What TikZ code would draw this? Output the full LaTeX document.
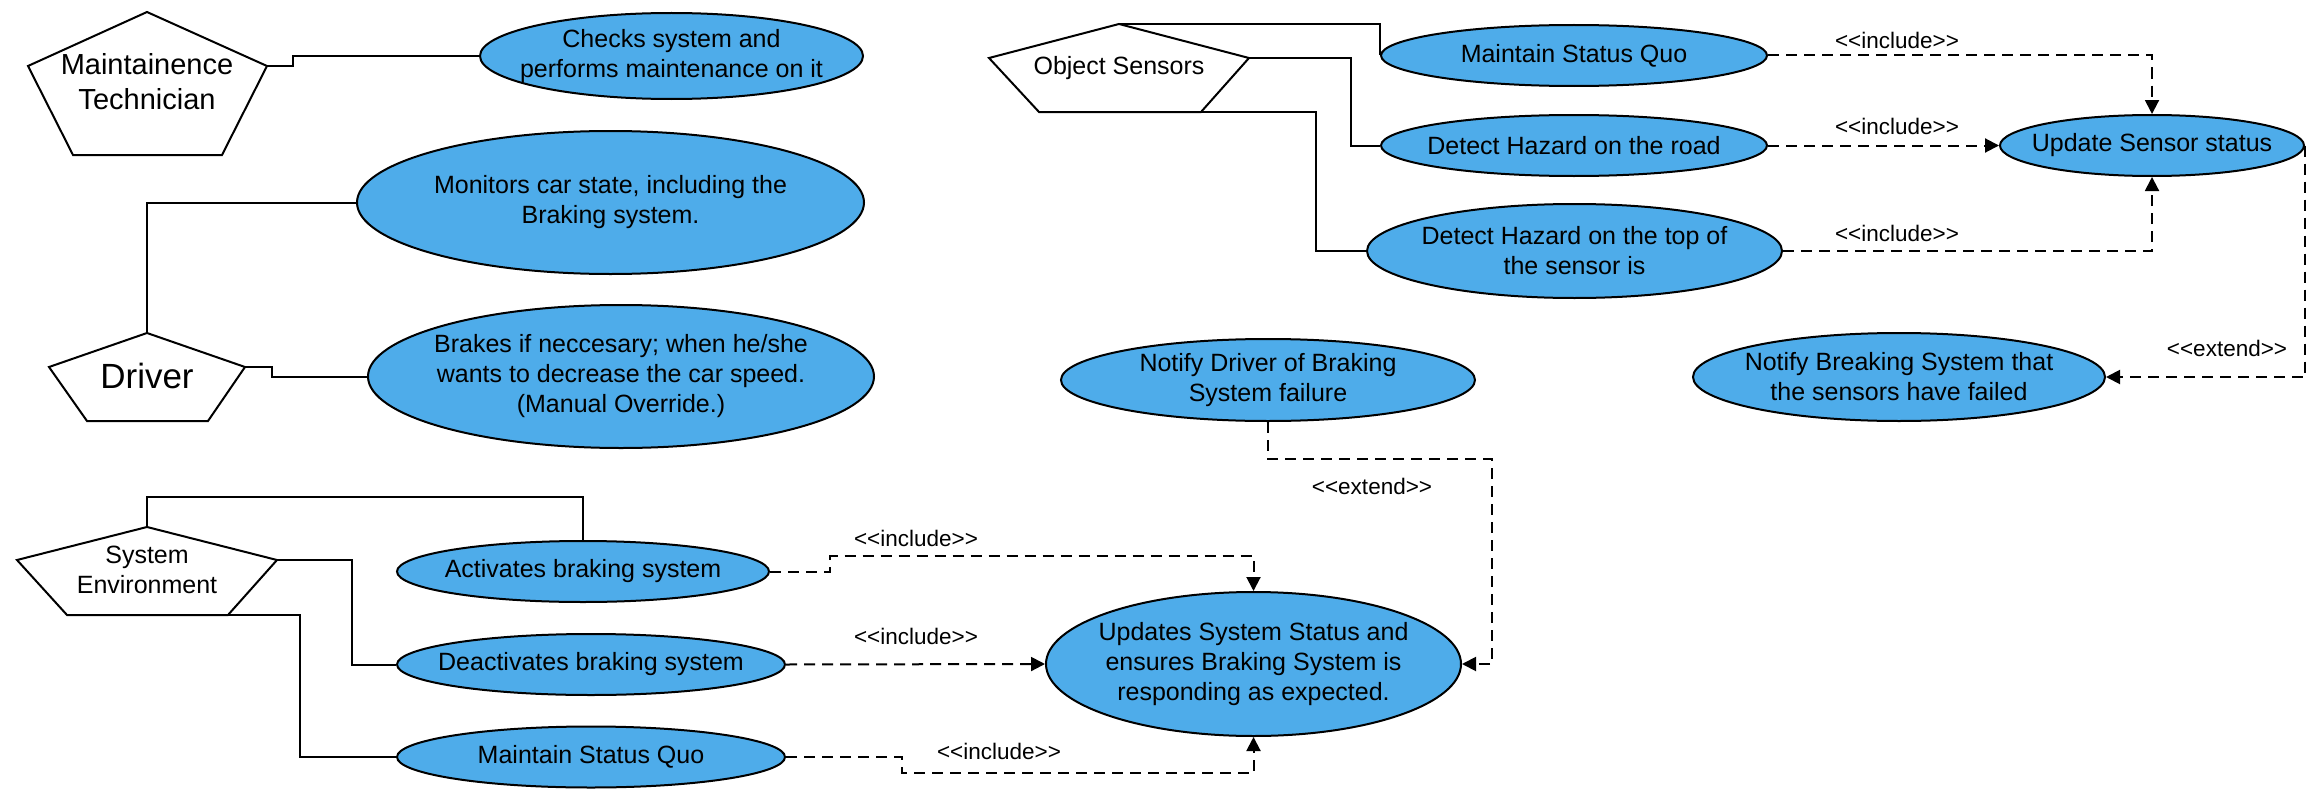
\documentclass[tikz,border=0pt]{standalone}
\usepackage{fontspec}
\setmainfont{Liberation Sans}
\usetikzlibrary{shapes.geometric,arrows.meta}
\definecolor{ucblue}{RGB}{78,172,234}
\begin{document}
\begin{tikzpicture}[x=1pt,y=-1pt,
  uc/.style={ellipse, draw=black, line width=2pt, fill=ucblue, inner sep=0pt},
  uctext/.style={align=center, inner sep=0pt, font=\fontsize{25}{30}\selectfont},
  actor/.style={draw=black, line width=2pt, fill=white, line join=miter},
  assoc/.style={draw=black, line width=2pt},
  dep/.style={draw=black, line width=2pt, dash pattern=on 11pt off 7pt, -{Triangle[length=14pt,width=14pt]}},
  deplabel/.style={inner sep=0pt, font=\fontsize{22.5}{27}\selectfont}
]
\useasboundingbox (0,0) rectangle (2324,800);

% ---------- actors ----------
\coordinate (mt-t) at (147,12);
\coordinate (mt-l) at (28,66);
\coordinate (mt-r) at (267,66);
\coordinate (mt-bl) at (73,155);
\coordinate (mt-br) at (222,155);
\draw[actor] (mt-t) -- (mt-r) -- (mt-br) -- (mt-bl) -- (mt-l) -- cycle;
\node[align=center, inner sep=0pt, font=\fontsize{29}{35}\selectfont] (mt) at (147,82) {Maintainence\\Technician};

\coordinate (dr-t) at (147,333);
\coordinate (dr-l) at (49,367);
\coordinate (dr-r) at (245,367);
\coordinate (dr-bl) at (87,421);
\coordinate (dr-br) at (208,421);
\draw[actor] (dr-t) -- (dr-r) -- (dr-br) -- (dr-bl) -- (dr-l) -- cycle;
\node[inner sep=0pt, font=\fontsize{35}{42}\selectfont] (dr) at (147,376) {Driver};

\coordinate (os-t) at (1119,24);
\coordinate (os-l) at (989,58);
\coordinate (os-r) at (1249,58);
\coordinate (os-bl) at (1039,112);
\coordinate (os-br) at (1201,112);
\draw[actor] (os-t) -- (os-r) -- (os-br) -- (os-bl) -- (os-l) -- cycle;
\node[uctext] (os) at (1119,68) {Object Sensors};

\coordinate (se-t) at (147,527);
\coordinate (se-l) at (17,560);
\coordinate (se-r) at (277,560);
\coordinate (se-bl) at (67,615);
\coordinate (se-br) at (228,615);
\draw[actor] (se-t) -- (se-r) -- (se-br) -- (se-bl) -- (se-l) -- cycle;
\node[uctext] (se) at (147,570) {System\\Environment};

% ---------- use cases ----------
\node[uc, minimum width=383pt, minimum height=86pt] (checks) at (671.5,56) {};
\node[uctext] at (checks) {Checks system and\\performs maintenance on it};

\node[uc, minimum width=507pt, minimum height=143pt] (mon) at (610.5,202.5) {};
\node[uctext] at (mon) {Monitors car state, including the\\Braking system.};

\node[uc, minimum width=506pt, minimum height=143pt] (brk) at (621,376.5) {};
\node[uctext] at (brk) {Brakes if neccesary; when he/she\\wants to decrease the car speed.\\(Manual Override.)};

\node[uc, minimum width=386pt, minimum height=61pt] (msq1) at (1574,55.5) {};
\node[uctext] at (msq1) {Maintain Status Quo};

\node[uc, minimum width=386pt, minimum height=61pt] (dhr) at (1574,145.5) {};
\node[uctext] at (dhr) {Detect Hazard on the road};

\node[uc, minimum width=415pt, minimum height=94pt] (dht) at (1574.5,251) {};
\node[uctext] at (dht) {Detect Hazard on the top of\\the sensor is};

\node[uc, minimum width=304pt, minimum height=61pt] (uss) at (2152,145.5) {};
\node[uctext] at (uss) {Update Sensor status};

\node[uc, minimum width=412pt, minimum height=88pt] (nbs) at (1899,377) {};
\node[uctext] at (nbs) {Notify Breaking System that\\the sensors have failed};

\node[uc, minimum width=414pt, minimum height=82pt] (ndr) at (1268,380) {};
\node[uctext] at (ndr) {Notify Driver of Braking\\System failure};

\node[uc, minimum width=372pt, minimum height=61pt] (act) at (583,571.5) {};
\node[uctext] at (act) {Activates braking system};

\node[uc, minimum width=388pt, minimum height=61pt] (deact) at (591,664.5) {};
\node[uctext] at (deact) {Deactivates braking system};

\node[uc, minimum width=388pt, minimum height=61pt] (msq2) at (591,757) {};
\node[uctext] at (msq2) {Maintain Status Quo};

\node[uc, minimum width=415pt, minimum height=144pt] (ups) at (1253.5,664) {};
\node[uctext] at (ups) {Updates System Status and\\ensures Braking System is\\responding as expected.};

% ---------- associations ----------
\draw[assoc] (mt-r) -- ++(26,0) |- (checks.west);
\draw[assoc] (dr-t) |- (mon.west);
\draw[assoc] (dr-r) -- ++(27,0) |- (brk.west);
\draw[assoc] (os-t) -| (msq1.west);
\draw[assoc] (os-r) -- ++(102,0) |- (dhr.west);
\draw[assoc] (os-br) -- ++(115,0) |- (dht.west);
\draw[assoc] (se-t) -- ++(0,-30) -| (act.north);
\draw[assoc] (se-r) -- ++(75,0) |- (deact.west);
\draw[assoc] (se-br) -- ++(72,0) |- (msq2.west);

% ---------- include / extend ----------
\draw[dep] (msq1.east) -| (uss.north);
\draw[dep] (dhr.east) -- (uss.west);
\draw[dep] (dht.east) -| (uss.south);
\draw[dep] (uss.east) |- (nbs.east);
\draw[dep] (act.east) -- ++(60,0) -- ++(0,-15.5) -| (ups.north);
\draw[dep] (deact.east) -- (ups.west);
\draw[dep] (msq2.east) -- ++(116,0) -- ++(0,16) -| (ups.south);
\draw[dep] (ndr.south) -- ++(0,37) -- ++(224,0) |- (ups.east);

\node[deplabel] (li1) at (1897,40) {<\kern0pt<include>\kern0pt>};
\node[deplabel] (li2) at (1897,126) {<\kern0pt<include>\kern0pt>};
\node[deplabel] (li3) at (1897,233) {<\kern0pt<include>\kern0pt>};
\node[deplabel] (le1) at (2227,348) {<\kern0pt<extend>\kern0pt>};
\node[deplabel] (le2) at (1372,486) {<\kern0pt<extend>\kern0pt>};
\node[deplabel] (li4) at (916,538) {<\kern0pt<include>\kern0pt>};
\node[deplabel] (li5) at (916,636) {<\kern0pt<include>\kern0pt>};
\node[deplabel] (li6) at (999,751) {<\kern0pt<include>\kern0pt>};
\end{tikzpicture}
\end{document}
